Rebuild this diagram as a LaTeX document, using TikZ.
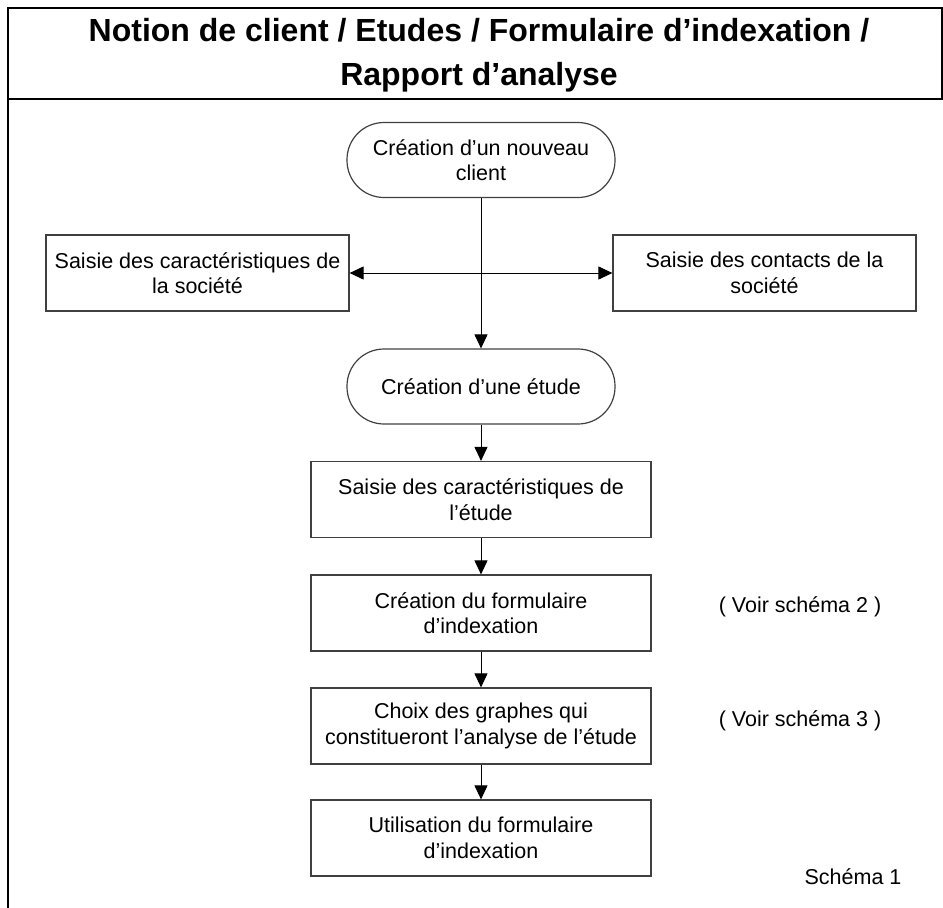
\documentclass[tikz,border=0pt]{standalone}
\usepackage{fontspec}
\setmainfont{Liberation Sans}
\usetikzlibrary{arrows.meta}

\begin{document}
\begin{tikzpicture}[x=1pt,y=-1pt,
    texte/.style={font=\fontsize{21.5}{25.5}\selectfont},
    boite/.style={texte,draw=black!75,line width=1.2pt,inner sep=0pt,
      minimum height=76pt,minimum width=#1,align=center},
    boite/.default=340pt,
    terminal/.style={texte,draw=black!75,line width=1.2pt,inner sep=0pt,
      minimum height=75pt,minimum width=268pt,align=center,
      rounded corners=37pt},
    fleche/.style={line width=1pt,-{Triangle[length=14pt,width=13pt]}}]
  \useasboundingbox (0,0) rectangle (943,908);
  % cadre
  \draw[line width=2pt]
    (8,908) -- (8,8) -- (942,8) -- (942,99) -- (8,99);
  \node[font=\bfseries\fontsize{32}{44}\selectfont,align=center]
    (titre) at (479,55)
    {Notion de client / Etudes / Formulaire d’indexation /\\Rapport d’analyse};
  % noeuds
  \node[terminal] (client) at (481,160) {Création d’un nouveau\\client};
  \node[boite=303pt] (societe) at (197.5,273)
    {Saisie des caractéristiques de\\la société};
  \node[boite=303pt] (contacts) at (764.5,273)
    {Saisie des contacts de la\\société};
  \node[terminal] (etude) at (481,386.5) {Création d’une étude};
  \node[boite] (caract) at (481,499.5)
    {Saisie des caractéristiques de\\l’étude};
  \node[boite] (formulaire) at (481,613)
    {Création du formulaire\\d’indexation};
  \node[boite] (graphes) at (481,726)
    {Choix des graphes qui\\constitueront l’analyse de l’étude};
  \node[boite] (utilisation) at (481,838)
    {Utilisation du formulaire\\d’indexation};
  \node[texte] (voir2) at (800,607) {( Voir schéma 2 )};
  \node[texte] (voir3) at (800,721) {( Voir schéma 3 )};
  \node[texte] (schema) at (853,877) {Schéma 1};
  % fleches
  \coordinate (carrefour) at (client |- societe);
  \draw[fleche] (client) -- (etude);
  \draw[fleche] (carrefour) -- (societe);
  \draw[fleche] (carrefour) -- (contacts);
  \draw[fleche] (etude) -- (caract);
  \draw[fleche] (caract) -- (formulaire);
  \draw[fleche] (formulaire) -- (graphes);
  \draw[fleche] (graphes) -- (utilisation);
\end{tikzpicture}
\end{document}
